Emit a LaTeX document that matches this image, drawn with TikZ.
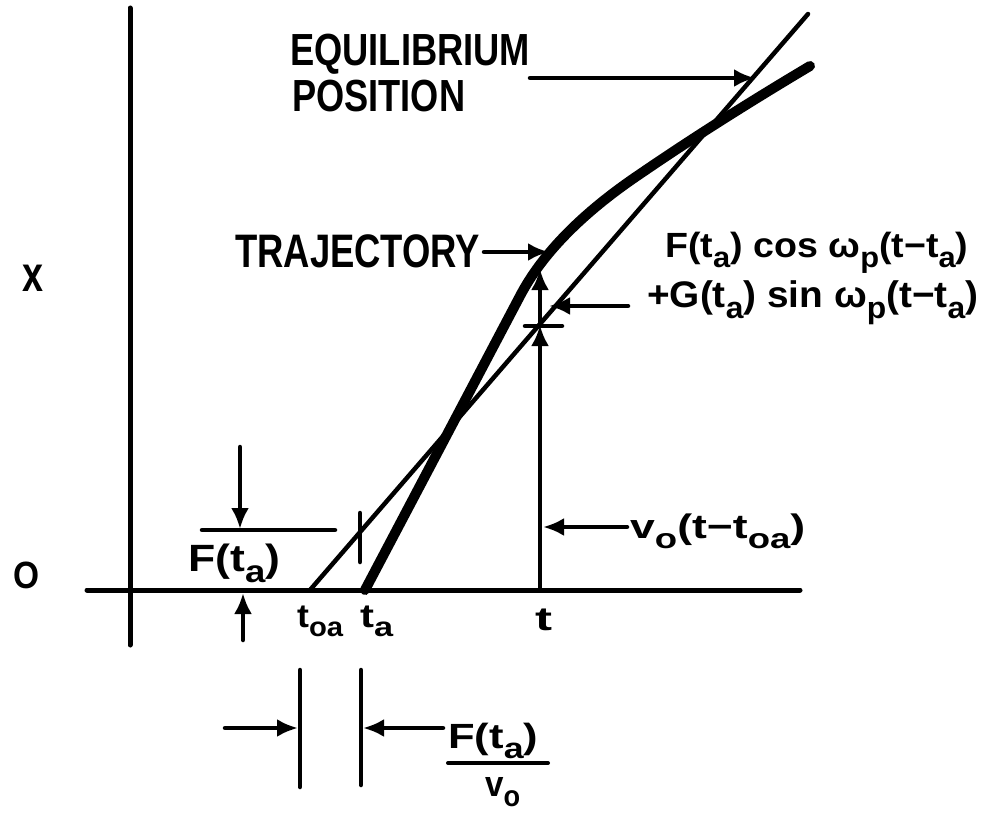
\documentclass[tikz,border=0pt]{standalone}
\usepackage{fontspec}
\setmainfont{Liberation Sans}
\usetikzlibrary{arrows.meta}
\newcommand\fitw[2]{\resizebox{#1}{\height}{#2}}
\newcommand\sbs[1]{\raisebox{-0.3em}{\scalebox{0.82}{#1}}}
\newcommand\fs[1]{\fontsize{#1}{#1}\selectfont\bfseries}
\begin{document}
\begin{tikzpicture}[x=1pt,y=-1pt, line cap=round, line join=round,
  axis/.style={line width=5pt},
  eqline/.style={line width=4.5pt},
  traj/.style={line width=10pt},
  lead/.style={line width=4.5pt,-{Latex[length=21pt,width=18pt]}},
  tickmark/.style={line width=4.5pt},
  lbl/.style={inner sep=0pt, anchor=base west}]
\useasboundingbox[fill=white] (0,0) rectangle (996,816);

% ---------- labels ----------
\node[lbl, font=\fs{45}] (eq1) at (290,66) {\fitw{240pt}{EQUILIBRIUM}};
\node[lbl, font=\fs{45}] (eq2) at (292,111) {\fitw{173pt}{POSITION}};
\node[lbl, font=\fs{47}] (trj) at (235,267) {\fitw{245pt}{TRAJECTORY}};
\node[lbl, font=\fs{50}] (xlab) at (22,291) {\fitw{21pt}{x}};
\node[lbl, font=\fs{38}] (olab) at (13,588) {\fitw{26pt}{O}};
\node[lbl, font=\fs{38}] (flab) at (188,571) {\fitw{92pt}{F(t\sbs{a})}};
\node[lbl, font=\fs{33}] (toalab) at (297,627) {\fitw{46pt}{t\sbs{oa}}};
\node[lbl, font=\fs{33}] (talab) at (360,627) {\fitw{33pt}{t\sbs{a}}};
\node[lbl, font=\fs{33}] (tlab) at (535,630) {\fitw{17pt}{t}};
\node[lbl, font=\fs{34}] (vlab) at (630,538) {\fitw{175pt}{v\sbs{o}(t−t\sbs{oa})}};
\node[lbl, font=\fs{35}] (fnum) at (448,748) {\fitw{90pt}{F(t\sbs{a})}};
\node[lbl, font=\fs{36}] (fden) at (485,796) {\fitw{35pt}{v\sbs{o}}};
\node[lbl, font=\fs{35}] (r1) at (665,257) {\fitw{303pt}{F(t\sbs{a}) cos ω\sbs{p}(t−t\sbs{a})}};
\node[lbl, font=\fs{37}] (r2) at (647,307) {\fitw{331pt}{+G(t\sbs{a}) sin ω\sbs{p}(t−t\sbs{a})}};

% ---------- coordinates ----------
\coordinate (ytop) at (130,8);
\coordinate (ybot) at (130,645);
\coordinate (xleft) at (87,590);
\coordinate (xright) at (800,590);
\coordinate (toa) at (310,590);
\coordinate (eqtop) at (808,14);
\coordinate (ta) at (365,590);
\coordinate (c1) at (520,296);
\coordinate (c2) at (640,174);
\coordinate (c3) at (810,66);
\coordinate (tk1a) at (360,513);
\coordinate (tk1b) at (360,562);
\coordinate (tax) at (540,590);
\coordinate (tick2) at (540,325);
\coordinate (tcurve) at (540,269);
\coordinate (tk2a) at (525,326);
\coordinate (tk2b) at (562,326);
\coordinate (trjs) at (484,252);
\coordinate (trjtip) at (549,252);
\coordinate (eqs) at (530,78);
\coordinate (eqtip) at (755,78);
\coordinate (r2s) at (628,306);
\coordinate (r2tip) at (549,306);
\coordinate (vs) at (627,527);
\coordinate (vtip) at (543,527);
\coordinate (fd1) at (240,447);
\coordinate (fd2) at (240,529);
\coordinate (fh1) at (202,530);
\coordinate (fh2) at (335,530);
\coordinate (fu1) at (243,640);
\coordinate (fu2) at (243,593);
\coordinate (b1t) at (300,670);
\coordinate (b1b) at (300,787);
\coordinate (b2t) at (361,670);
\coordinate (b2b) at (361,785);
\coordinate (bl) at (225,728);
\coordinate (bltip) at (298,728);
\coordinate (br) at (443,728);
\coordinate (brtip) at (363,728);
\coordinate (fr1) at (448,763);
\coordinate (fr2) at (548,763);

% ---------- axes ----------
\draw[axis] (ytop) -- (ybot);
\draw[axis] (xleft) -- (xright);

% ---------- equilibrium line and trajectory ----------
\draw[eqline] (toa) -- (eqtop);
\draw[traj] (ta) -- (c1) .. controls (542,254) and (582,213) .. (c2)
  .. controls (697,135) and (753,100) .. (c3);

% ---------- ticks ----------
\draw[tickmark] (tk1a) -- (tk1b);
\draw[tickmark] (tk2a) -- (tk2b);
\draw[tickmark] (b1t) -- (b1b);
\draw[tickmark] (b2t) -- (b2b);
\draw[tickmark] (fh1) -- (fh2);
\draw[line width=4pt] (fr1) -- (fr2);

% ---------- leaders ----------
\draw[lead] (tax) -- (tick2);
\draw[lead] (tick2) -- (tcurve);
\draw[lead] (trjs) -- (trjtip);
\draw[lead] (eqs) -- (eqtip);
\draw[lead] (r2s) -- (r2tip);
\draw[lead] (vs) -- (vtip);
\draw[lead] (fd1) -- (fd2);
\draw[lead] (fu1) -- (fu2);
\draw[lead] (bl) -- (bltip);
\draw[lead] (br) -- (brtip);
\end{tikzpicture}
\end{document}
